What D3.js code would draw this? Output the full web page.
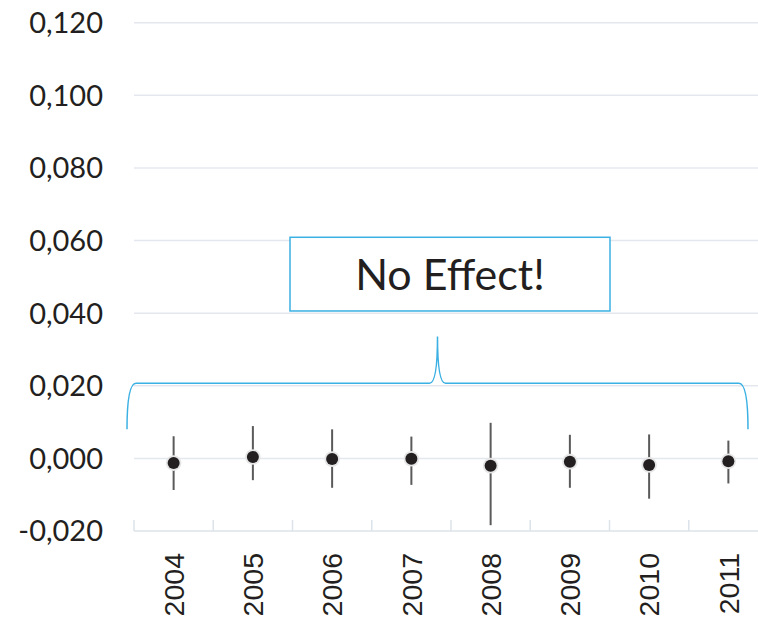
<!DOCTYPE html>
<html>
<head>
<meta charset="utf-8">
<script src="https://cdn.jsdelivr.net/npm/d3@7"></script>
<style>
  body { margin: 0; background: #fff; }
  svg { display: block; }
</style>
</head>
<body>
<script>
var svgWidth = 758;
var svgHeight = 619;

// data
var years = ["2004", "2005", "2006", "2007", "2008", "2009", "2010", "2011"];
var estimate = [-0.0013, 0.0004, -0.0002, -0.0001, -0.0020, -0.0009, -0.0018, -0.0008];
var upper = [0.0061, 0.0089, 0.0080, 0.0060, 0.0098, 0.0065, 0.0066, 0.0049];
var lower = [-0.0087, -0.0060, -0.0081, -0.0073, -0.0184, -0.0081, -0.0111, -0.0069];
var yTicks = [-0.02, 0, 0.02, 0.04, 0.06, 0.08, 0.1, 0.12];
var note = "No Effect!";

var blue = "#3bb0e3";

var svg = d3.select("body")
  .append("svg")
  .attr("width", svgWidth)
  .attr("height", svgHeight);

var x = d3.scaleBand()
  .domain(years)
  .range([134, 768]);

var y = d3.scaleLinear()
  .domain([-0.02, 0.12])
  .range([531, 22.7]);

var fmt = function(d) { return d3.format(".3f")(d).replace(".", ",").replace("−", "-"); };

// gridlines
svg.append("g")
  .selectAll("line")
  .data(yTicks.filter(function(d) { return d > -0.02; }))
  .enter().append("line")
  .attr("x1", x.range()[0])
  .attr("x2", svgWidth)
  .attr("y1", function(d) { return y(d); })
  .attr("y2", function(d) { return y(d); })
  .attr("stroke", "#e4e8ee")
  .attr("stroke-width", 1.5);

// y axis labels
svg.append("g")
  .selectAll("text")
  .data(yTicks)
  .enter().append("text")
  .attr("x", 103)
  .attr("y", function(d) { return y(d); })
  .attr("dy", "0.36em")
  .attr("text-anchor", "end")
  .attr("font-family", "Lato, 'Open Sans', sans-serif")
  .attr("font-size", 29)
  .attr("fill", "#231f20")
  .text(fmt);

// bottom axis
var bottomAxis = d3.axisBottom(x).tickSize(0).tickFormat("");
var axisG = svg.append("g")
  .attr("transform", "translate(0," + y(-0.02) + ")")
  .call(bottomAxis);
axisG.select(".domain")
  .attr("stroke", "#dde3ea")
  .attr("stroke-width", 1.5)
  .attr("d", "M" + x.range()[0] + ",0H" + svgWidth);

svg.append("g")
  .selectAll("line")
  .data(years)
  .enter().append("line")
  .attr("x1", function(d) { return x(d); })
  .attr("x2", function(d) { return x(d); })
  .attr("y1", y(-0.02))
  .attr("y2", y(-0.02) - 11)
  .attr("stroke", "#dde3ea")
  .attr("stroke-width", 1.5);

svg.append("g")
  .selectAll("text")
  .data(years)
  .enter().append("text")
  .attr("transform", function(d) {
    return "translate(" + (x(d) + x.bandwidth() / 2) + "," + (y(-0.02) + 22) + ") rotate(-90)";
  })
  .attr("dy", "0.36em")
  .attr("text-anchor", "end")
  .attr("font-family", "'Liberation Sans', Arial, sans-serif")
  .attr("font-size", 28.5)
  .attr("fill", "#231f20")
  .text(function(d) { return d; });

// error bars
var cx = function(i) { return x(years[i]) + x.bandwidth() / 2; };

svg.append("g")
  .selectAll("line")
  .data(years)
  .enter().append("line")
  .attr("x1", function(d, i) { return cx(i); })
  .attr("x2", function(d, i) { return cx(i); })
  .attr("y1", function(d, i) { return y(upper[i]); })
  .attr("y2", function(d, i) { return y(lower[i]); })
  .attr("stroke", "#5a5a5a")
  .attr("stroke-width", 2);

svg.append("g")
  .selectAll("circle")
  .data(years)
  .enter().append("circle")
  .attr("cx", function(d, i) { return cx(i); })
  .attr("cy", function(d, i) { return y(estimate[i]); })
  .attr("r", 7.8)
  .attr("fill", "#e6e6e6");

svg.append("g")
  .selectAll("circle")
  .data(years)
  .enter().append("circle")
  .attr("cx", function(d, i) { return cx(i); })
  .attr("cy", function(d, i) { return y(estimate[i]); })
  .attr("r", 6)
  .attr("fill", "#231f20");

// brace
var bx0 = x.range()[0] - 7, bx1 = 748, bmid = (bx0 + bx1) / 2;
var byEnd = y(0.008), byLine = y(0.0207), byTip = y(0.0336);
var p = d3.path();
p.moveTo(bx0, byEnd);
p.quadraticCurveTo(bx0, byLine, bx0 + 9, byLine);
p.lineTo(bmid - 8, byLine);
p.quadraticCurveTo(bmid, byLine, bmid, byTip);
p.quadraticCurveTo(bmid, byLine, bmid + 8, byLine);
p.lineTo(bx1 - 9, byLine);
p.quadraticCurveTo(bx1, byLine, bx1, byEnd);
svg.append("path")
  .attr("d", p.toString())
  .attr("fill", "none")
  .attr("stroke", blue)
  .attr("stroke-width", 1.5);

// text box
svg.append("rect")
  .attr("x", 290)
  .attr("y", y(0.0609))
  .attr("width", 320)
  .attr("height", y(0.0406) - y(0.0609))
  .attr("fill", "#fff")
  .attr("stroke", blue)
  .attr("stroke-width", 1.5);

svg.append("text")
  .attr("x", 450)
  .attr("y", (y(0.0609) + y(0.0406)) / 2)
  .attr("dy", "0.36em")
  .attr("text-anchor", "middle")
  .attr("font-family", "Lato, 'Open Sans', sans-serif")
  .attr("font-size", 43)
  .attr("fill", "#231f20")
  .text(note);
</script>
</body>
</html>
